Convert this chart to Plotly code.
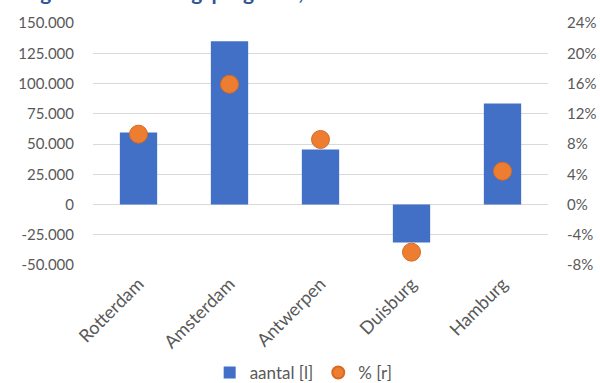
import plotly.graph_objects as go

categories = ["Rotterdam", "Amsterdam", "Antwerpen", "Duisburg", "Hamburg"]
aantal = [59500, 135000, 45500, -31500, 83500]
pct = [0.093, 0.159, 0.086, -0.063, 0.044]

left_tickvals = [150000, 125000, 100000, 75000, 50000, 25000, 0, -25000, -50000]
left_ticktext = ["150.000", "125.000", "100.000", "75.000", "50.000", "25.000", "0", "-25.000", "-50.000"]
right_tickvals = [0.24, 0.20, 0.16, 0.12, 0.08, 0.04, 0.0, -0.04, -0.08]
right_ticktext = ["24%", "20%", "16%", "12%", "8%", "4%", "0%", "-4%", "-8%"]

title_text = "Figuur 3: Bevolkingsprognose, 2017 - 2035"

FONT = "Lato"
GREY = "#595959"

fig = go.Figure()
fig.add_trace(go.Bar(
    x=categories, y=aantal, name="aantal [l]",
    marker=dict(color="#4170C6", line=dict(width=0)),
    yaxis="y",
))
fig.add_trace(go.Scatter(
    x=categories, y=pct, name="% [r]", mode="markers",
    marker=dict(color="#ED7D31", size=18, line=dict(color="#D86A22", width=1)),
    yaxis="y2",
))

fig.update_layout(
    width=600, height=383,
    margin=dict(l=93, r=52, t=23, b=118, pad=0, autoexpand=False),
    paper_bgcolor="white", plot_bgcolor="white",
    font=dict(family=FONT, size=15, color=GREY),
    bargap=0.59,
    showlegend=True,
    legend=dict(orientation="h", x=0.463, xanchor="center", y=-0.446, yanchor="middle",
                font=dict(family=FONT, size=17, color=GREY), itemsizing="constant",
                itemwidth=30, traceorder="normal"),
    xaxis=dict(tickangle=-45, showgrid=False, zeroline=False, showline=False,
               ticks="", automargin=False, ticklabelstandoff=4,
               tickfont=dict(family=FONT, size=18, color=GREY)),
    yaxis=dict(range=[-50000, 150000], tickvals=left_tickvals, ticktext=left_ticktext,
               showgrid=True, gridcolor="#D9D9D9", gridwidth=1, zeroline=False,
               showline=False, ticks="", ticklabelstandoff=18, automargin=False,
               tickfont=dict(family=FONT, size=15, color=GREY)),
    yaxis2=dict(range=[-0.08, 0.24], tickvals=right_tickvals, ticktext=right_ticktext,
                overlaying="y", side="right", showgrid=False, zeroline=False,
                showline=False, ticks="", ticklabelstandoff=18, automargin=False,
                tickfont=dict(family=FONT, size=15, color=GREY)),
    annotations=[dict(
        text="<b>" + title_text + "</b>", xref="paper", yref="paper",
        x=(21 - 93) / 455, y=1 + (23 - 6) / 242, xanchor="left", yanchor="bottom",
        showarrow=False, font=dict(family=FONT, size=21, color="#2F5597"),
    )],
)

fig.write_html("out.html")
